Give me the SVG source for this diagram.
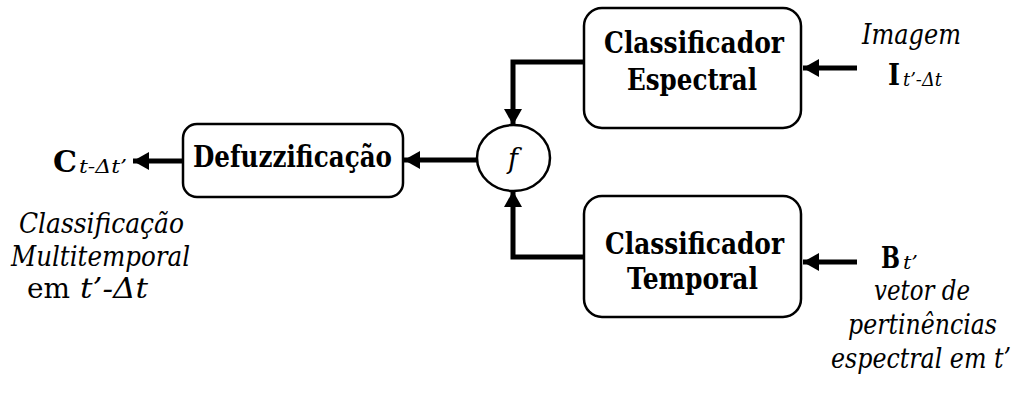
<svg xmlns="http://www.w3.org/2000/svg" width="1018" height="398" viewBox="0 0 1018 398">
  <style>
    .box { fill: #fff; stroke: #000; stroke-width: 2.5; }
    .wire { fill: none; stroke: #000; stroke-width: 5; marker-end: url(#head); }
    text { font-family: "DejaVu Serif", serif; fill: #000; }
    .b { font-weight: bold; font-size: 29px; }
    .i { font-style: italic; font-size: 27px; }
    .r { font-size: 27px; }
    .sub { font-style: italic; font-size: 19px; }
  </style>
  <defs>
    <marker id="head" markerUnits="userSpaceOnUse" markerWidth="18" markerHeight="18" refX="16" refY="9" orient="auto">
      <path d="M0,0 L16,9 L0,18 Z" fill="#000"/>
    </marker>
  </defs>

  <g id="connectors">
    <path class="wire" d="M584,62 H513 V125"/>
    <path class="wire" d="M584,257 H513 V191"/>
    <path class="wire" d="M477,160 H404"/>
    <path class="wire" d="M183,161 H133"/>
    <path class="wire" d="M857,68 H803"/>
    <path class="wire" d="M857,262 H803"/>
  </g>

  <g id="spectral">
    <rect class="box" x="584" y="8" width="217" height="120" rx="18"/>
    <text class="b" x="604" y="53" textLength="180" lengthAdjust="spacingAndGlyphs">Classificador</text>
    <text class="b" x="627" y="90" textLength="130" lengthAdjust="spacingAndGlyphs">Espectral</text>
  </g>

  <g id="temporal">
    <rect class="box" x="584" y="196" width="217" height="121" rx="18"/>
    <text class="b" x="605" y="254" textLength="179" lengthAdjust="spacingAndGlyphs">Classificador</text>
    <text class="b" x="627" y="289" textLength="131" lengthAdjust="spacingAndGlyphs">Temporal</text>
  </g>

  <g id="defuzz">
    <rect class="box" x="183" y="124" width="220" height="73" rx="14"/>
    <text class="b" x="193" y="167" textLength="199" lengthAdjust="spacingAndGlyphs">Defuzzificação</text>
  </g>

  <g id="combine">
    <ellipse class="box" cx="513.5" cy="158" rx="36.5" ry="33"/>
    <text class="i" x="513" y="168" text-anchor="middle" font-size="30">f</text>
  </g>

  <g id="output">
    <text class="b" x="53" y="172" textLength="24" lengthAdjust="spacingAndGlyphs">C</text>
    <text class="sub" x="79" y="173" textLength="48" lengthAdjust="spacingAndGlyphs">t-Δt’</text>
    <text class="i" x="19" y="233" textLength="165" lengthAdjust="spacingAndGlyphs">Classificação</text>
    <text class="i" x="11" y="266" textLength="179" lengthAdjust="spacingAndGlyphs">Multitemporal</text>
    <text class="r" x="27" y="298" textLength="43" lengthAdjust="spacingAndGlyphs">em</text>
    <text class="i" x="80" y="298" textLength="68" lengthAdjust="spacingAndGlyphs">t’-Δt</text>
  </g>

  <g id="input-image">
    <text class="i" x="862" y="44" textLength="99" lengthAdjust="spacingAndGlyphs">Imagem</text>
    <text class="b" x="888" y="85" textLength="12" lengthAdjust="spacingAndGlyphs">I</text>
    <text class="sub" x="903" y="86" textLength="39" lengthAdjust="spacingAndGlyphs">t’-Δt</text>
  </g>

  <g id="input-membership">
    <text class="b" x="881" y="268" textLength="19" lengthAdjust="spacingAndGlyphs">B</text>
    <text class="sub" x="903" y="269" textLength="15" lengthAdjust="spacingAndGlyphs">t’</text>
    <text class="i" x="874" y="300" textLength="96" lengthAdjust="spacingAndGlyphs">vetor de</text>
    <text class="i" x="848" y="334" textLength="149" lengthAdjust="spacingAndGlyphs">pertinências</text>
    <text class="i" x="831" y="368" textLength="180" lengthAdjust="spacingAndGlyphs">espectral em t’</text>
  </g>
</svg>
